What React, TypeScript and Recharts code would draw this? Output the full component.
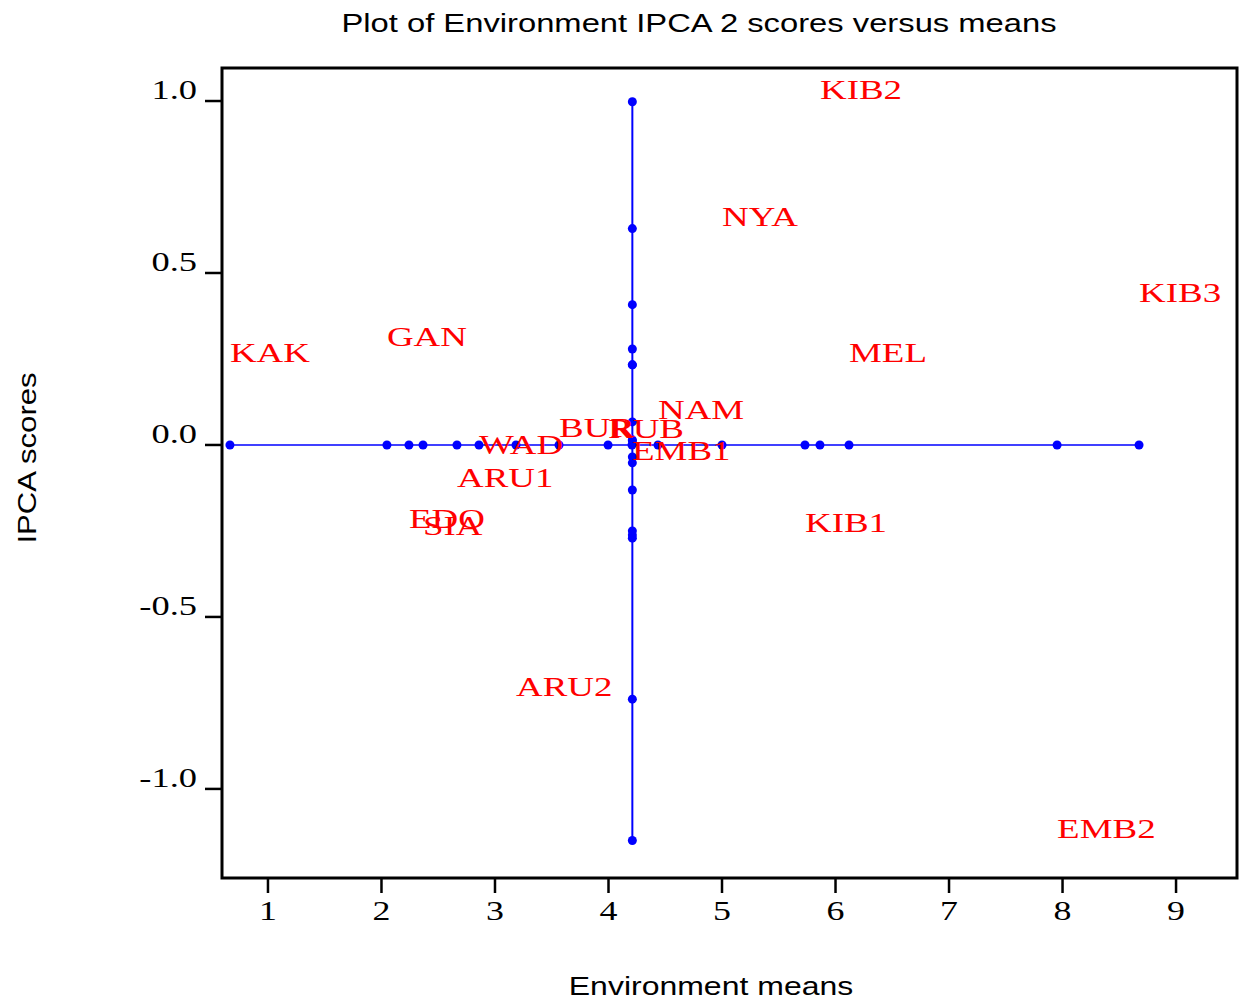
import React from 'react';
import { ScatterChart, Scatter, XAxis, YAxis, ReferenceArea } from 'recharts';

// environment labels, their means and IPCA 2 scores
const envNames = ['KAK', 'GAN', 'EDO', 'SIA', 'ARU1', 'WAD', 'ARU2', 'BUR', 'RUB', 'EMB1', 'NAM', 'NYA', 'KIB1', 'KIB2', 'MEL', 'EMB2', 'KIB3'];
const envMeans = [0.665, 2.048, 2.242, 2.366, 2.665, 2.859, 3.185, 3.564, 3.996, 4.207, 4.436, 5.0, 5.731, 5.863, 6.119, 7.952, 8.674];
const ipcaScores = [0.233, 0.279, -0.25, -0.271, -0.131, -0.035, -0.739, 0.015, 0.012, -0.052, 0.067, 0.629, -0.262, 0.998, 0.233, -1.15, 0.408];

const xTicks = [1, 2, 3, 4, 5, 6, 7, 8, 9];
const yTicks = [-1, -0.5, 0, 0.5, 1];

const X_MIN = 0.595;
const X_MAX = 9.537;
const Y_MIN = -1.259;
const Y_MAX = 1.096;

const BLUE = '#0000ff';
const SERIF = '"Liberation Serif", "Times New Roman", serif';
const SANS = '"Liberation Sans", Arial, sans-serif';

const grandMean = envMeans.reduce((a, b) => a + b, 0) / envMeans.length;

const points = envNames.map((name, i) => ({ name, x: envMeans[i], y: ipcaScores[i] }));
// horizontal line at score 0 through every mean
const meanLine = [...envMeans].sort((a, b) => a - b).map((m) => ({ x: m, y: 0 }));
// vertical line at the grand mean through every score
const scoreLine = [...ipcaScores].sort((a, b) => a - b).map((s) => ({ x: grandMean, y: s }));

const dot = (props: any) => <circle cx={props.cx} cy={props.cy} r={4.5} fill={BLUE} />;

const envLabel = (props: any) => (
  <text
    transform={`translate(${props.cx},${props.cy - 3}) scale(1.32,1)`}
    fill="#ff0000"
    fontFamily={SERIF}
    fontSize={28}
  >
    {props.payload.name}
  </text>
);

const xTick = (props: any) => (
  <text
    transform={`translate(${props.x},${props.y + 25}) scale(1.33,1)`}
    textAnchor="middle"
    fill="#000"
    fontFamily={SERIF}
    fontSize={27}
  >
    {props.payload.value}
  </text>
);

const yTick = (props: any) => (
  <text
    transform={`translate(${props.x + 2},${props.y - 2}) scale(1.35,1)`}
    textAnchor="end"
    fill="#000"
    fontFamily={SERIF}
    fontSize={27}
  >
    {Number(props.payload.value).toFixed(1)}
  </text>
);

export default function App() {
  return (
    <div style={{ position: 'absolute', left: 0, top: 0, width: 1239, height: 1002, background: '#fff' }}>
      <ScatterChart width={1239} height={1002} margin={{ top: 68, right: 2, bottom: 74, left: 0 }}>
        <XAxis
          type="number"
          dataKey="x"
          domain={[X_MIN, X_MAX]}
          allowDataOverflow
          ticks={xTicks}
          height={50}
          axisLine={false}
          tickSize={15}
          tickMargin={2}
          tickLine={{ stroke: '#000', strokeWidth: 2.5 }}
          tick={xTick}
        />
        <YAxis
          type="number"
          dataKey="y"
          domain={[Y_MIN, Y_MAX]}
          allowDataOverflow
          ticks={yTicks}
          width={222}
          axisLine={false}
          tickSize={17}
          tickMargin={10}
          tickLine={{ stroke: '#000', strokeWidth: 2.5 }}
          tick={yTick}
        />
        <ReferenceArea x1={X_MIN} x2={X_MAX} y1={Y_MIN} y2={Y_MAX} fill="none" fillOpacity={0} stroke="#000" strokeWidth={3} />
        <Scatter data={meanLine} line={{ stroke: BLUE, strokeWidth: 1.5 }} shape={dot} isAnimationActive={false} />
        <Scatter data={scoreLine} line={{ stroke: BLUE, strokeWidth: 2 }} shape={dot} isAnimationActive={false} />
        <Scatter data={points} shape={envLabel} isAnimationActive={false} />
      </ScatterChart>
      <svg width={1239} height={1002} style={{ position: 'absolute', left: 0, top: 0, pointerEvents: 'none' }}>
        <text transform="translate(699,32) scale(1.31,1)" textAnchor="middle" fontFamily={SANS} fontSize={25} fill="#000">
          Plot of Environment IPCA 2 scores versus means
        </text>
        <text transform="translate(711,995) scale(1.28,1)" textAnchor="middle" fontFamily={SANS} fontSize={25} fill="#000">
          Environment means
        </text>
        <text transform="translate(36,458) rotate(-90) scale(1.245,1)" textAnchor="middle" fontFamily={SANS} fontSize={25} fill="#000">
          IPCA scores
        </text>
      </svg>
    </div>
  );
}
